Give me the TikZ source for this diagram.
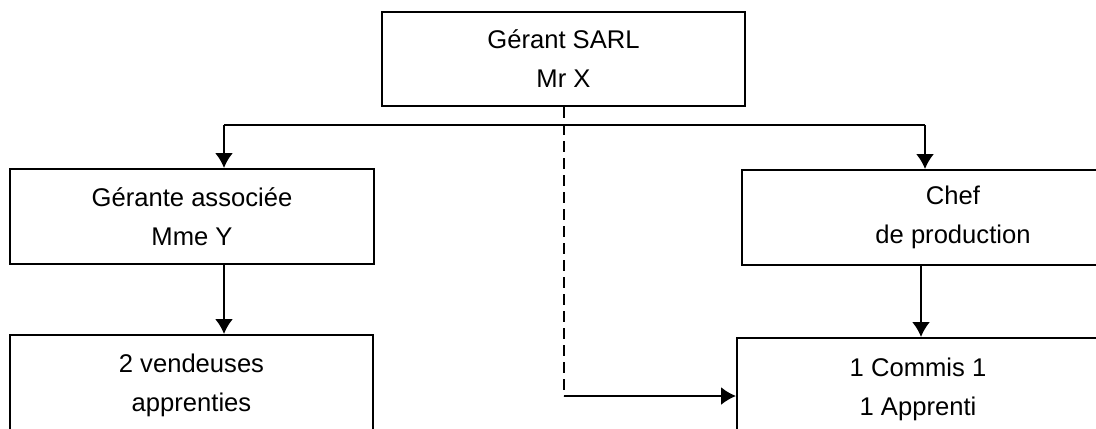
\documentclass[tikz,border=0pt]{standalone}
\usepackage{fontspec}
\setmainfont{Liberation Sans}
\usetikzlibrary{positioning,arrows.meta,calc}
\definecolor{ink}{HTML}{000000}
\tikzset{
  box/.style={draw=ink,line width=1pt,align=center,inner sep=0pt,font=\fontsize{12.8}{19.5}\selectfont},
  link/.style={draw=ink,line width=1pt},
  flow/.style={-{Latex[length=7.5pt,width=9pt]},draw=ink,line width=1pt},
  dashlink/.style={draw=ink,line width=1pt,dash pattern=on 5.5pt off 3pt}}

\begin{document}
\begin{tikzpicture}[x=0.5pt,y=-0.5pt]
  \useasboundingbox (0,0) rectangle (1096,428);
  \clip (0,0) rectangle (1096,428);
  \node[box,minimum width=181.5pt,minimum height=47pt] (g) at (563.5,59) {Gérant SARL\\Mr X};
  \node[box,minimum width=182pt,minimum height=47.5pt] (a) at (192,216.5) {Gérante associée\\Mme Y};
  \node[box,minimum width=211pt,minimum height=47.5pt] (c) at (953,217.5) {Chef\\de production};
  \node[box,minimum width=181.5pt,minimum height=50pt] (v) at (191.5,385) {2 vendeuses\\apprenties};
  \node[box,minimum width=181pt,minimum height=51pt] (k) at (918,389) {1 Commis 1\\1 Apprenti};
  \coordinate (jl) at (224,125);
  \coordinate (jr) at (925,125);
  \coordinate (bend) at (g.south |- 0,396);
  \draw[link] (jl)--(jr);
  \draw[flow] (jl)--(jl |- a.north);
  \draw[flow] (jr)--(jr |- c.north);
  \draw[flow] (a.south -| jl)--(v.north -| jl);
  \draw[flow] (c.south -| 921,0)--(k.north -| 921,0);
  \draw[dashlink] (g.south)--(bend);
  \draw[flow] (bend)--(bend -| k.west);
\end{tikzpicture}
\end{document}
